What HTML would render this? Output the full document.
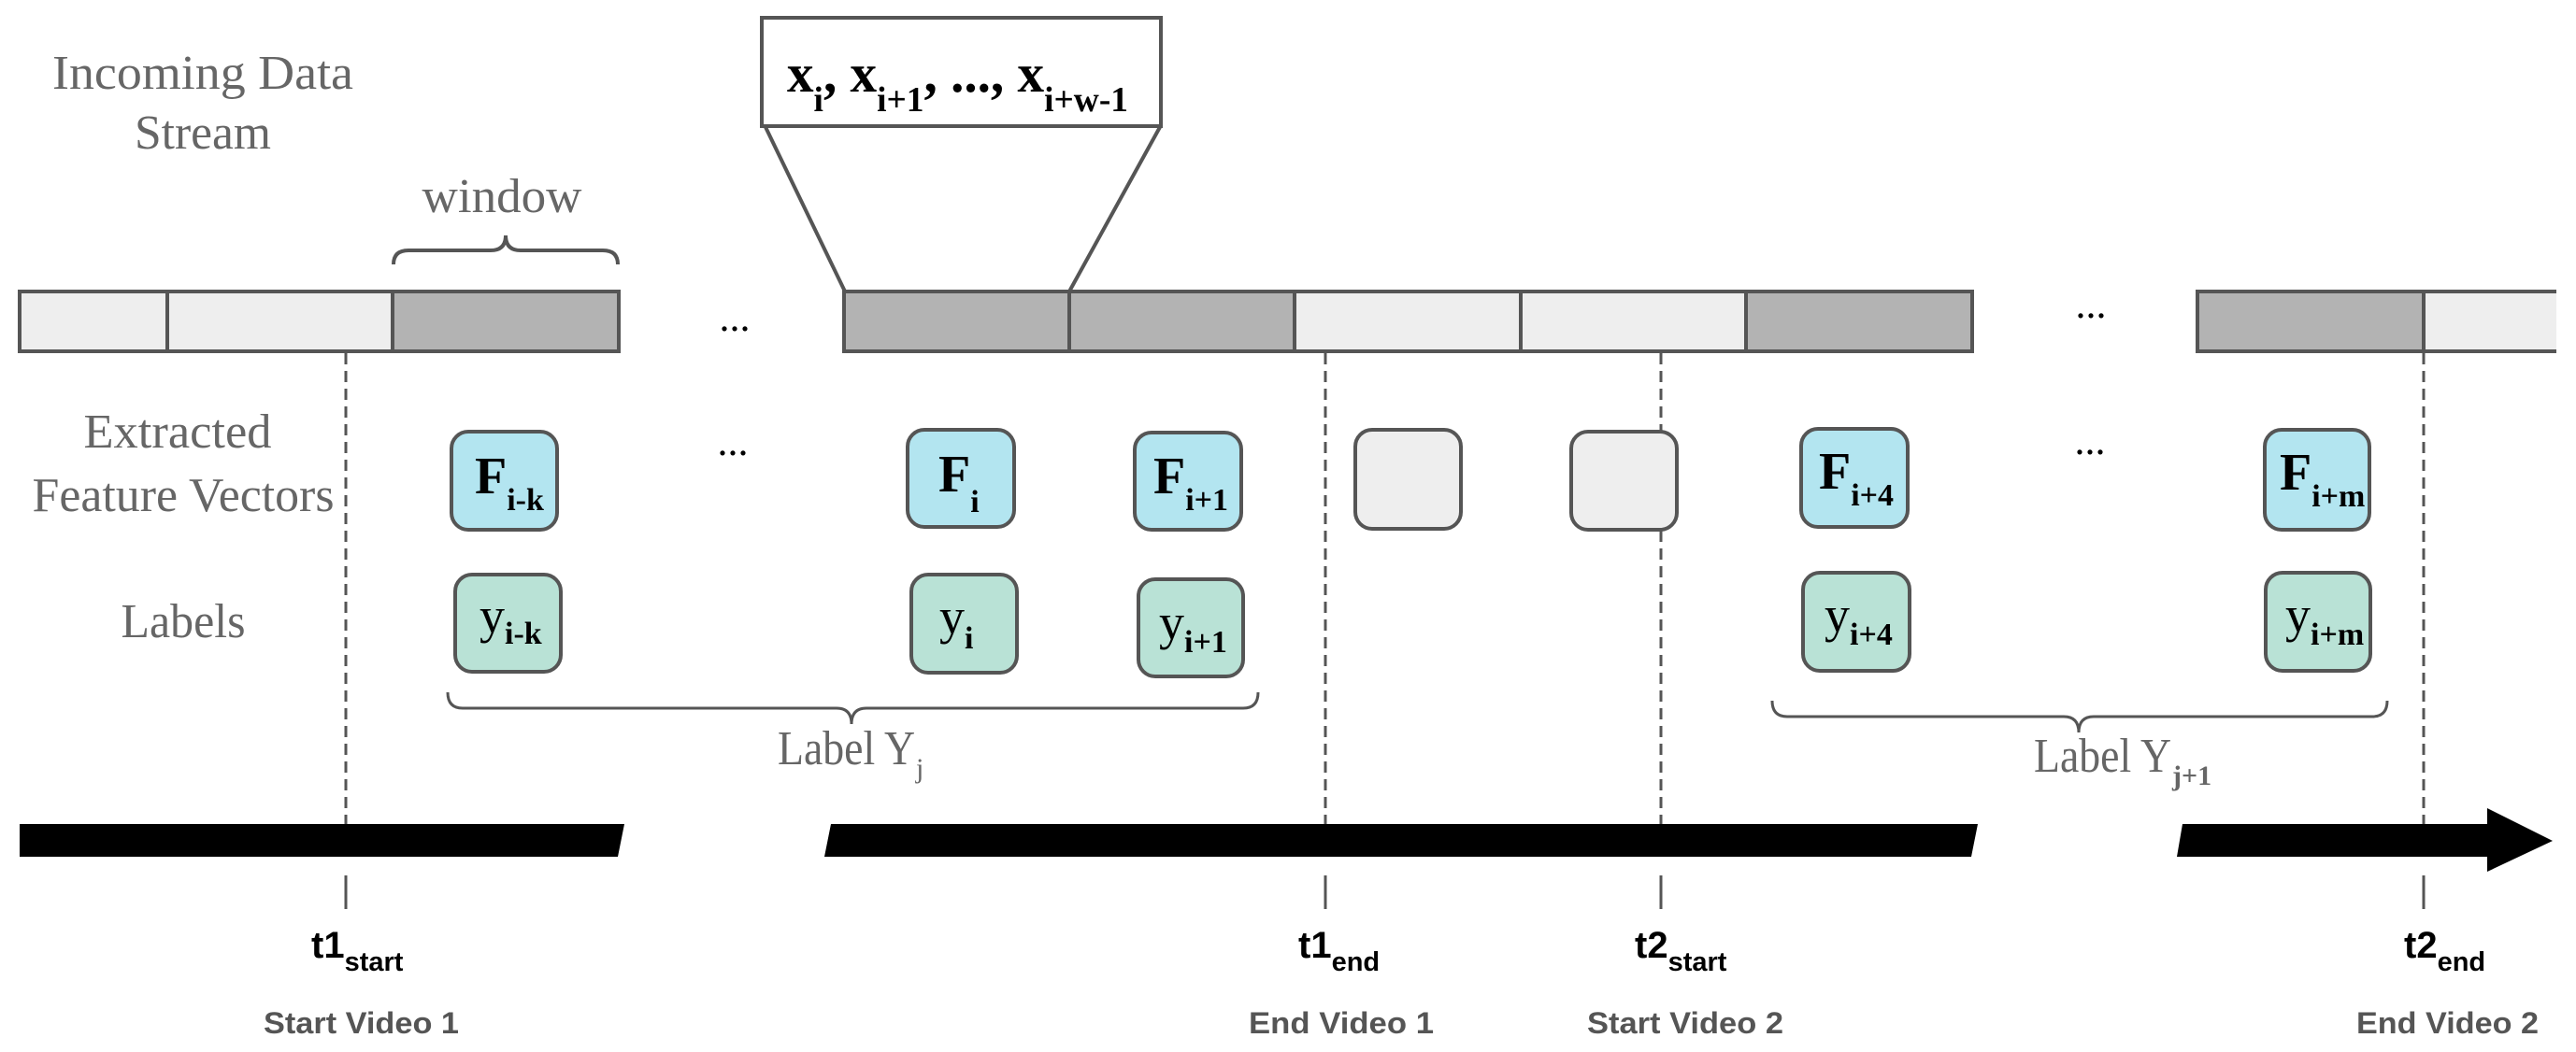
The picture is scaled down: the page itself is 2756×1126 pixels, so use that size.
<!DOCTYPE html>
<html><head><meta charset="utf-8"><style>
html,body{margin:0;padding:0;background:#fff;overflow:hidden;}
svg{display:block;}
.lab{font-family:"Liberation Serif",serif;fill:#666;font-size:52px;}
.bx{font-family:"Liberation Serif",serif;fill:#000;}
.ts{font-family:"Liberation Sans",sans-serif;font-weight:bold;fill:#000;}
.tv{font-family:"Liberation Sans",sans-serif;font-weight:bold;fill:#555;font-size:32px;}
</style></head><body>
<svg width="2756" height="1126" viewBox="0 0 2756 1126" xmlns="http://www.w3.org/2000/svg">
<g fill="none" stroke="#555" stroke-width="4">
<rect x="815" y="19" width="427" height="116" fill="#fff"/>
<line x1="819" y1="136" x2="904" y2="312"/>
<line x1="1241" y1="136" x2="1144" y2="312"/>
</g>
<text class="bx" font-weight="bold" x="842" y="98" font-size="58" textLength="365" lengthAdjust="spacingAndGlyphs">x<tspan font-size="38" dy="21">i</tspan><tspan dy="-21">, x</tspan><tspan font-size="38" dy="21">i+1</tspan><tspan dy="-21">, ..., x</tspan><tspan font-size="38" dy="21">i+w-1</tspan></text>

<text class="lab" x="217" y="83" text-anchor="middle" dominant-baseline="middle" textLength="322" lengthAdjust="spacingAndGlyphs">Incoming Data</text>
<text class="lab" x="217" y="147" text-anchor="middle" dominant-baseline="middle" textLength="146" lengthAdjust="spacingAndGlyphs">Stream</text>
<text class="lab" x="537" y="215" text-anchor="middle" dominant-baseline="middle" textLength="171" lengthAdjust="spacingAndGlyphs">window</text>
<path d="M421 283 Q421 268 437 268 L525 268 Q541 268 541 252 Q541 268 557 268 L645 268 Q661 268 661 283" fill="none" stroke="#555" stroke-width="4"/>

<g stroke="#555" stroke-width="4">
<rect x="21" y="312" width="158" height="64" fill="#eeeeee"/>
<rect x="179" y="312" width="241" height="64" fill="#eeeeee"/>
<rect x="420" y="312" width="242" height="64" fill="#b3b3b3"/>
<rect x="903" y="312" width="241" height="64" fill="#b3b3b3"/>
<rect x="1144" y="312" width="241" height="64" fill="#b3b3b3"/>
<rect x="1385" y="312" width="242" height="64" fill="#eeeeee"/>
<rect x="1627" y="312" width="241" height="64" fill="#eeeeee"/>
<rect x="1868" y="312" width="242" height="64" fill="#b3b3b3"/>
<rect x="2351" y="312" width="242" height="64" fill="#b3b3b3"/>
<rect x="2593" y="312" width="160" height="64" fill="#eeeeee"/>
</g>
<rect x="2735" y="308" width="21" height="72" fill="#fff"/>
<g class="bx" font-size="44">
<text x="786" y="354" text-anchor="middle">...</text>
<text x="784" y="487" text-anchor="middle">...</text>
<text x="2237" y="340" text-anchor="middle">...</text>
<text x="2236" y="486" text-anchor="middle">...</text>
</g>

<g stroke="#555" stroke-width="3" stroke-dasharray="12,7">
<line x1="370" y1="378" x2="370" y2="882"/>
<line x1="1418" y1="378" x2="1418" y2="882"/>
<line x1="1777" y1="378" x2="1777" y2="882"/>
<line x1="2593" y1="378" x2="2593" y2="882"/>
</g>
<g stroke="#555" stroke-width="3">
<line x1="370" y1="937" x2="370" y2="973"/>
<line x1="1418" y1="937" x2="1418" y2="973"/>
<line x1="1777" y1="937" x2="1777" y2="973"/>
<line x1="2593" y1="937" x2="2593" y2="973"/>
</g>

<text class="lab" x="190" y="467" text-anchor="middle" dominant-baseline="middle" textLength="201" lengthAdjust="spacingAndGlyphs">Extracted</text>
<text class="lab" x="196" y="535" text-anchor="middle" dominant-baseline="middle" textLength="323" lengthAdjust="spacingAndGlyphs">Feature Vectors</text>
<text class="lab" x="196" y="670" text-anchor="middle" dominant-baseline="middle" textLength="133" lengthAdjust="spacingAndGlyphs">Labels</text>

<g stroke="#555" stroke-width="4">
<rect x="483" y="462" width="113" height="105" rx="18" fill="#b3e5f0"/>
<rect x="971" y="460" width="114" height="104" rx="18" fill="#b3e5f0"/>
<rect x="1214" y="463" width="114" height="104" rx="18" fill="#b3e5f0"/>
<rect x="1450" y="460" width="113" height="106" rx="18" fill="#eeeeee"/>
<rect x="1681" y="462" width="113" height="105" rx="18" fill="#eeeeee"/>
<rect x="1927" y="459" width="114" height="105" rx="18" fill="#b3e5f0"/>
<rect x="2423" y="460" width="112" height="107" rx="18" fill="#b3e5f0"/>
<rect x="487" y="615" width="113" height="104" rx="18" fill="#b9e2d6"/>
<rect x="975" y="615" width="113" height="105" rx="18" fill="#b9e2d6"/>
<rect x="1218" y="620" width="112" height="104" rx="18" fill="#b9e2d6"/>
<rect x="1929" y="613" width="114" height="105" rx="18" fill="#b9e2d6"/>
<rect x="2424" y="613" width="112" height="105" rx="18" fill="#b9e2d6"/>
</g>
<g class="bx" font-weight="bold">
<text x="508" y="528" font-size="56">F<tspan font-size="34" dy="18">i-k</tspan></text>
<text x="1004" y="526" font-size="56">F<tspan font-size="34" dy="22">i</tspan></text>
<text x="1234" y="528" font-size="56">F<tspan font-size="34" dy="18">i+1</tspan></text>
<text x="1946" y="523" font-size="56">F<tspan font-size="34" dy="18">i+4</tspan></text>
<text x="2439" y="524" font-size="56">F<tspan font-size="34" dy="18">i+m</tspan></text>
</g>
<g class="bx">
<text x="513" y="677" font-size="54">y<tspan font-size="34" font-weight="bold" dy="12">i-k</tspan></text>
<text x="1005" y="678" font-size="54">y<tspan font-size="34" font-weight="bold" dy="16">i</tspan></text>
<text x="1240" y="684" font-size="54">y<tspan font-size="34" font-weight="bold" dy="14">i+1</tspan></text>
<text x="1952" y="676" font-size="54">y<tspan font-size="34" font-weight="bold" dy="14">i+4</tspan></text>
<text x="2445" y="676" font-size="54">y<tspan font-size="34" font-weight="bold" dy="14">i+m</tspan></text>
</g>

<g fill="none" stroke="#555" stroke-width="3">
<path d="M479 741 Q479 758 495 758 L895 758 Q911 758 911 775 Q911 758 927 758 L1330 758 Q1346 758 1346 741"/>
<path d="M1896 750 Q1896 767 1912 767 L2208 767 Q2224 767 2224 784 Q2224 767 2240 767 L2538 767 Q2554 767 2554 750"/>
</g>
<text class="lab" x="832" y="818" textLength="147" lengthAdjust="spacingAndGlyphs">Label Y</text><text class="lab" x="980" y="832" style="font-size:30px">j</text>
<text class="lab" x="2176" y="826" textLength="147" lengthAdjust="spacingAndGlyphs">Label Y</text><text class="lab" x="2324" y="840" style="font-size:30px;font-weight:bold">j+1</text>

<g fill="#000">
<polygon points="21,882 668,882 661,917 21,917"/>
<polygon points="889,882 2116,882 2109,917 882,917"/>
<polygon points="2335,882 2661,882 2661,865 2731,900 2661,933 2661,917 2329,917"/>
</g>

<text class="ts" x="333" y="1025" font-size="40">t1<tspan font-size="29" dy="14">start</tspan></text>
<text class="ts" x="1389" y="1025" font-size="40">t1<tspan font-size="29" dy="14">end</tspan></text>
<text class="ts" x="1749" y="1025" font-size="40">t2<tspan font-size="29" dy="14">start</tspan></text>
<text class="ts" x="2572" y="1025" font-size="40">t2<tspan font-size="29" dy="14">end</tspan></text>
<text class="tv" x="282" y="1106" textLength="209" lengthAdjust="spacingAndGlyphs">Start Video 1</text>
<text class="tv" x="1336" y="1106" textLength="198" lengthAdjust="spacingAndGlyphs">End Video 1</text>
<text class="tv" x="1698" y="1106" textLength="210" lengthAdjust="spacingAndGlyphs">Start Video 2</text>
<text class="tv" x="2521" y="1106" textLength="195" lengthAdjust="spacingAndGlyphs">End Video 2</text>
</svg>
</body></html>
